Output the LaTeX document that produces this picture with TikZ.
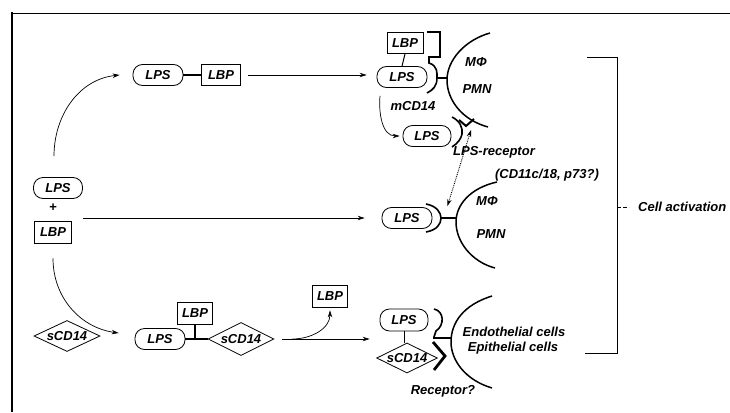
\documentclass[tikz,border=0pt]{standalone}
\usepackage{fontspec}
\setmainfont{Liberation Sans}
\usetikzlibrary{arrows.meta,shapes.geometric}
\begin{document}
\begin{tikzpicture}[x=1pt,y=-1pt,
  lbl/.style={font=\itshape\bfseries\fontsize{13}{15}\selectfont, inner sep=0pt},
  pill/.style={lbl, draw, line width=0.8pt, rounded corners=9.5pt, minimum width=50pt, minimum height=21pt},
  boxn/.style={lbl, draw, line width=0.8pt, minimum width=36pt, minimum height=21pt},
  dia/.style={lbl, draw, line width=0.8pt, shape=diamond, aspect=2.2, minimum width=66pt, minimum height=31pt},
  arr/.style={line width=0.7pt, -{Stealth[length=7pt,width=4.5pt]}},
  mem/.style={line width=1.5pt},
  rec/.style={line width=1.6pt},
  bond/.style={line width=1.6pt},
  txt/.style={font=\itshape\bfseries\fontsize{13}{15}\selectfont, inner sep=0pt}
]
\useasboundingbox (0,0) rectangle (730,412);
% frame
\draw[line width=0.9pt] (11,13) -- (730,13);
\draw[line width=1.8pt] (12,12.5) -- (12,412);

% top route
\node[pill] (lps1) at (158,75) {LPS};
\node[boxn, minimum width=39pt] (lbp1) at (221,75) {LBP};
\draw[bond] (lps1.east) -- (lbp1.west);

% left start
\node[pill, minimum width=49pt] (lps2) at (58,188) {LPS};
\node[lbl] (plus) at (53,208) {+};
\node[boxn, minimum width=37pt, minimum height=22pt] (lbp2) at (53,232) {LBP};
\node[dia] (scd1) at (67,336) {sCD14};

% top cell
\node[boxn] (lbp5) at (405,43) {LBP};
\node[pill] (lps3) at (402,77) {LPS};
\draw[line width=1pt] (lbp5.south) -- (lps3.north);
\draw[rec] (427,32) -- (440,32) -- (440,57) -- (429,57) -- (429,63)
  .. controls (438,66) and (437,73) .. (437,78)
  .. controls (437,86) and (433,90) .. (427,93);
\draw[rec] (437,78) -- (448,78);
\draw[mem] (490,33) .. controls (465,40) and (447,60) .. (447,80)
  .. controls (447,100) and (462,120) .. (488,127);
\node[txt] (mphi1) at (476,62) {MΦ};
\node[txt] (pmn1) at (477,89) {PMN};
\node[txt] (mcd) at (413,106) {mCD14};
\node[pill, minimum width=48pt] (lps7) at (427,136) {LPS};
\draw[rec] (452,117) .. controls (460,121) and (463,128) .. (462,134)
  .. controls (461,139) and (458,143) .. (452,147);
\draw[line width=2pt] (459,120) -- (466,126) -- (474,119);
\node[txt] (lpsrec) at (494,152) {LPS-receptor};
\node[txt] (cd11) at (547,175) {(CD11c/18, p73?)};

% middle cell
\node[pill] (lps4) at (407,218) {LPS};
\draw[rec] (426,204) .. controls (437,206) and (441,213) .. (441,218)
  .. controls (441,224) and (437,230) .. (426,232);
\draw[rec] (441,218) -- (456,218);
\draw[mem] (497,182) .. controls (470,188) and (456,205) .. (456,222)
  .. controls (456,242) and (472,262) .. (495,268);
\node[txt] (mphi2) at (487,201) {MΦ};
\node[txt] (pmn2) at (491,234) {PMN};

% bottom route
\node[pill] (lps5) at (160,339) {LPS};
\node[boxn, minimum width=35pt, minimum height=22pt] (lbp3) at (195,313) {LBP};
\node[dia, minimum height=33pt] (scd2) at (241,339) {sCD14};
\draw[bond] (lps5.east) -- (scd2.west);
\draw[bond] (lbp3.south) -- (lbp3.south |- lps5.east);
\node[boxn, minimum width=35pt, minimum height=22pt] (lbp4) at (330,296) {LBP};

% bottom cell
\node[pill, minimum width=48pt, minimum height=22pt] (lps6) at (404,320) {LPS};
\node[dia, minimum width=60pt, minimum height=30pt] (scd3) at (407,358) {sCD14};
\draw[line width=1pt] (lps6.south) -- (lps6.south |- scd3.north);
\draw[rec] (434,309) .. controls (444,311) and (445,325) .. (436,331) -- (434,337);
\draw[rec] (433,338) -- (451,338);
\draw[line width=2.8pt, line join=miter] (433,342) -- (445,356) -- (434,370);
\draw[mem] (492,296) .. controls (463,305) and (451,323) .. (451,342)
  .. controls (451,360) and (465,380) .. (492,388);
\node[txt] (endo) at (514,332) {Endothelial cells};
\node[txt] (epi) at (513,348) {Epithelial cells};
\node[txt] (recq) at (443,391) {Receptor?};

% cell activation bracket
\draw[line width=0.9pt] (587,57) -- (617,57) -- (617,353) -- (585,353);
\coordinate (tick) at (617,207);
\draw[line width=0.6pt, dashed, dash pattern=on 4pt off 2pt] (tick) -- ([xshift=12pt]tick);
\node[txt, anchor=west] (act) at (638,207) {Cell activation};

% connectors
\draw[arr] ([xshift=7pt]lbp1.east) -- ([xshift=-10pt]lbp1.east -| lps3.west);
\draw[arr] ([xshift=-4pt,yshift=21pt]lps2.north) to[out=90,in=186] ([xshift=-13pt]lps1.west);
\draw[arr] ([xshift=11pt]lbp2.east |- lps4.west) -- ([xshift=-17pt]lps4.west);
\draw[arr] ([yshift=-15pt]lbp2.south) to[out=-90,in=172] ([xshift=-16pt,yshift=6pt]lps5.west);
\draw[arr] ([xshift=8pt]scd2.east) -- ([xshift=-10pt]scd2.east -| lps6.west);
\draw[arr] ([xshift=18pt]scd2.east) to[out=0,in=-90] ([yshift=-3pt]lbp4.south);
\draw[arr] ([xshift=-22pt,yshift=-8pt]lps3.south) to[out=-95,in=180] ([xshift=-3pt]lps7.west);
\coordinate (dtop) at (471,130);
\draw[line width=0.9pt, densely dotted, {Stealth[length=7pt,width=4.5pt]}-{Stealth[length=7pt,width=4.5pt]}] (dtop) -- ([xshift=15pt,yshift=1pt]lps4.north east);
\end{tikzpicture}
\end{document}
